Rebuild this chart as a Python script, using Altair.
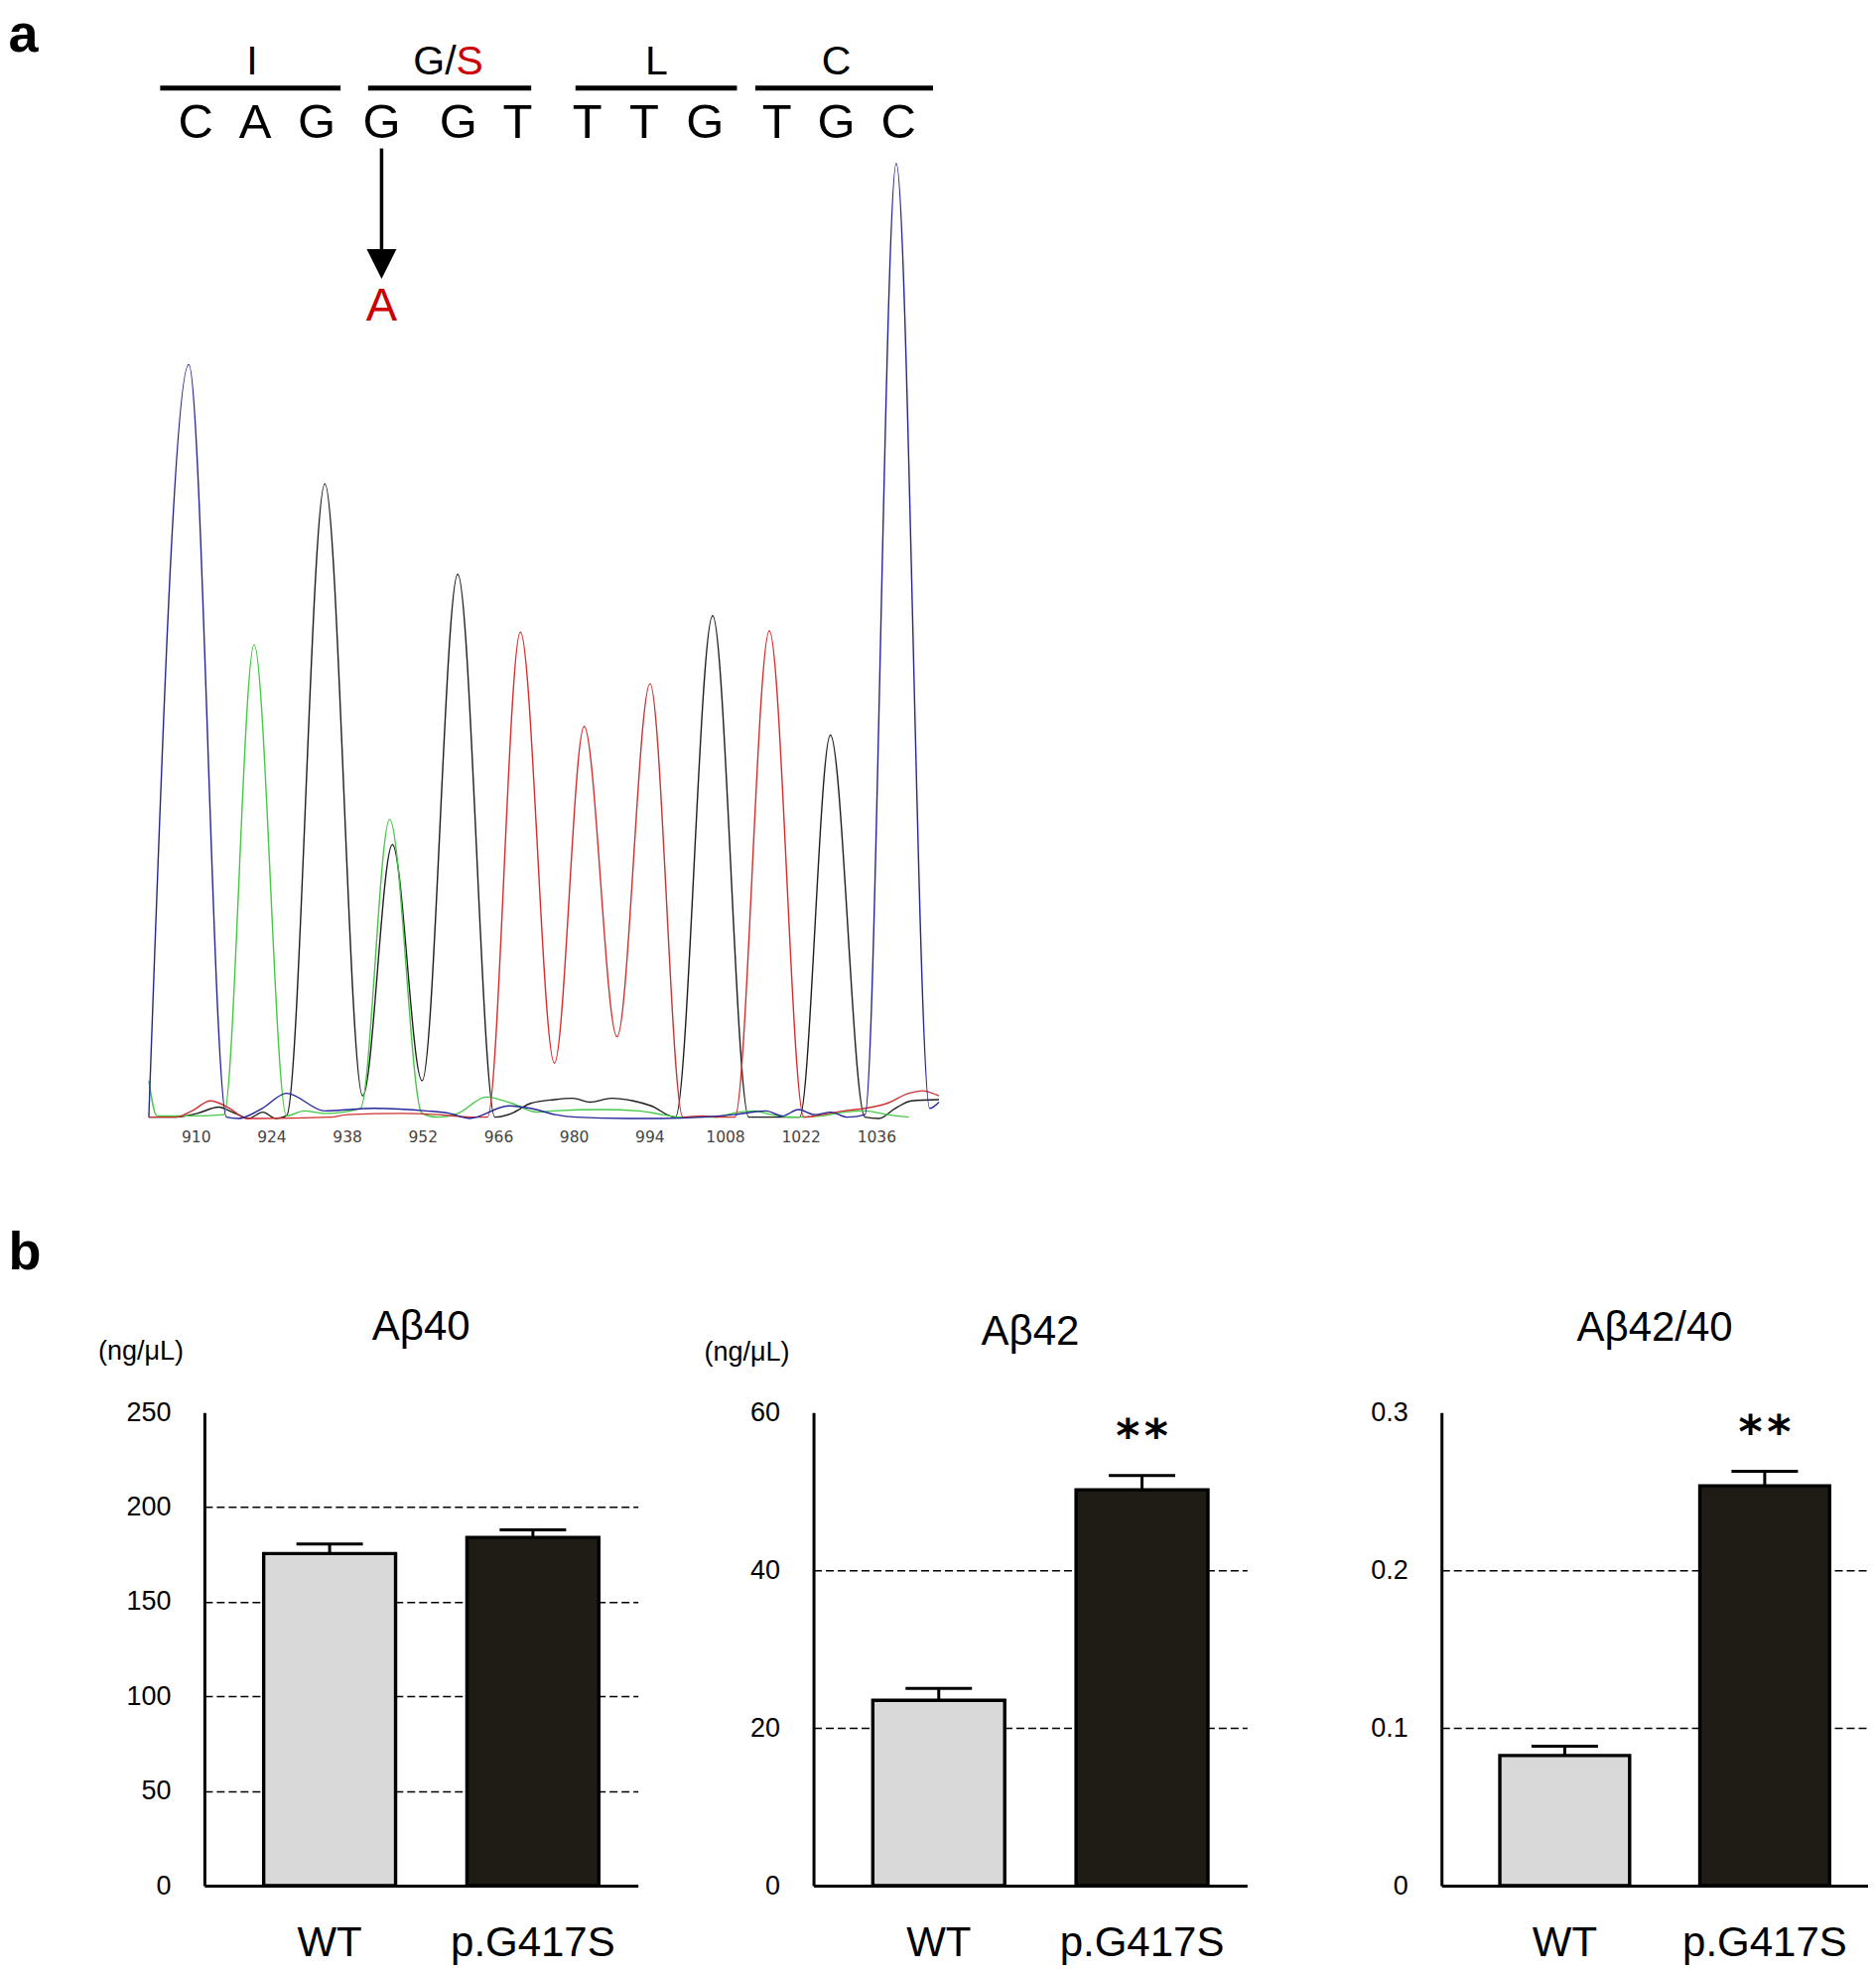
import altair as alt
import pandas as pd

FONT = "Liberation Sans"

# ---------------- Panel a : sequencing chromatogram ----------------
# scan position / signal (peaks, valleys, baseline bumps)
c_scan = [901.3, 908.7, 915.7, 917.9, 922.3, 926.8, 933.9, 943.0, 952.7, 957.0, 960.6, 968.0,
          972.0, 976.6, 980.4, 990.0, 996.2, 1003.7, 1009.6, 1015.6, 1018.6, 1021.6, 1024.6,
          1027.6, 1030.6, 1033.9, 1039.7, 1045.9, 1047.6]
c_sig = [1, 600, 1, 0, 8, 20, 6, 8, 6, 4, 0, 10, 8, 3, 1, 0, 0, 1, 3, 6, 2, 7, 3, 5, 1, 3, 760, 8, 13]

a_scan = [901.3, 902.8, 910.0, 915.2, 920.8, 926.8, 930.0, 934.0, 940.5, 945.9, 951.9, 954.8,
          958.5, 963.8, 968.5, 973.2, 976.2, 985.0, 992.0, 996.4, 1000.0, 1006.0, 1010.5,
          1013.5, 1016.5, 1021.0, 1026.0, 1030.0, 1034.0, 1038.0, 1042.0]
a_sig = [30, 2, 2, 3, 377, 2, 6, 4, 8, 238, 4, 1, 4, 17, 12, 5, 6, 7, 6, 3, 1, 1, 5, 6, 3, 1,
         2, 5, 6, 3, 1]

g_scan = [901.3, 906.3, 910.3, 914.2, 917.3, 919.8, 922.4, 924.8, 926.8, 933.9, 940.9, 946.4,
          951.9, 958.5, 965.4, 968.5, 972.0, 976.4, 979.8, 983.0, 987.0, 991.0, 994.3, 998.8,
          1005.7, 1012.4, 1021.8, 1027.5, 1033.9, 1036.5, 1039.5, 1042.5, 1047.6]
g_sig = [1, 1, 4, 9, 4, 0, 5, 0, 2, 505, 18, 218, 30, 433, 1, 4, 12, 15, 16, 13, 16, 14, 10, 1,
         400, 1, 1, 305, 1, 0, 8, 14, 15]

t_scan = [901.3, 906.3, 909.3, 912.7, 916.3, 919.3, 921.5, 935.0, 938.0, 948.0, 955.0, 961.0,
          964.0, 970.1, 976.4, 981.9, 988.0, 994.1, 1000.2, 1003.8, 1006.8, 1009.8, 1016.2,
          1022.6, 1026.0, 1030.0, 1034.0, 1038.0, 1042.0, 1044.5, 1047.6]
t_sig = [1, 1, 6, 14, 8, 0, 0, 1, 3, 4, 3, 1, 1, 387, 44, 312, 65, 346, 1, 2, 1, 1, 388, 1, 3,
         6, 8, 12, 20, 22, 18]

tick_vals = [910, 924, 938, 952, 966, 980, 994, 1008, 1022, 1036]

codon_names = ["I", "L", "C"]
codon_name_x = [920.4, 995.3, 1028.6]
gs_left = "G/"
gs_right = "S"
gs_x = 958.2
codon_start = [903.4, 941.9, 980.3, 1013.6]
codon_end = [936.8, 972.1, 1010.2, 1046.5]
bases = ["C", "A", "G", "G", "G", "T", "T", "T", "G", "T", "G", "C"]
base_x = [910.0, 921.0, 932.4, 944.4, 958.6, 969.6, 982.5, 993.0, 1004.3, 1017.6, 1028.6, 1040.1]
mut_x = 944.4
mut_base = "A"

# header rows (in signal units of the same axis)
ROW_CODON, ROW_BAR, ROW_BASE = 840, 820, 792.5
ARROW_TOP, ARROW_BOT, HEAD_Y, MUT_Y = 772, 691, 680, 646

trace_df = pd.concat([
    pd.DataFrame({"scan": g_scan, "signal": g_sig, "base": "G"}),
    pd.DataFrame({"scan": a_scan, "signal": a_sig, "base": "A"}),
    pd.DataFrame({"scan": t_scan, "signal": t_sig, "base": "T"}),
    pd.DataFrame({"scan": c_scan, "signal": c_sig, "base": "C"}),
])

xs = alt.Scale(domain=[901.3, 1047.7], nice=False, zero=False)
ys = alt.Scale(domain=[0, 870], nice=False, zero=False)
x_axis = alt.Axis(values=tick_vals, title=None, domain=False, ticks=False, grid=False, format="d",
                  labelFontSize=15.5, labelPadding=12, labelColor="#444444", labelFont="DejaVu Sans")


def hx(f):
    return alt.X(f, scale=xs, axis=x_axis)


def hy(f):
    return alt.Y(f, scale=ys, axis=None)


traces = alt.Chart(trace_df).mark_line(interpolate="monotone", strokeWidth=1.4).encode(
    x=hx("scan:Q"),
    y=hy("signal:Q"),
    color=alt.Color("base:N", scale=alt.Scale(domain=["G", "A", "T", "C"],
                    range=["#1e1e1e", "#45c845", "#d03030", "#26269c"]), legend=None),
)

codon_txt = alt.Chart(pd.DataFrame({"t": codon_names, "x": codon_name_x, "y": ROW_CODON})).mark_text(
    fontSize=41, baseline="middle", align="center", color="black", font=FONT
).encode(x=hx("x:Q"), y=hy("y:Q"), text="t:N")

gs1 = alt.Chart(pd.DataFrame({"t": [gs_left], "x": [gs_x], "y": [ROW_CODON]})).mark_text(
    fontSize=41, baseline="middle", align="right", color="black", font=FONT
).encode(x=hx("x:Q"), y=hy("y:Q"), text="t:N")

gs2 = alt.Chart(pd.DataFrame({"t": [gs_right], "x": [gs_x], "y": [ROW_CODON]})).mark_text(
    fontSize=41, baseline="middle", align="left", color="#cc0000", font=FONT
).encode(x=hx("x:Q"), y=hy("y:Q"), text="t:N")

codon_bars = alt.Chart(pd.DataFrame({"x0": codon_start, "x1": codon_end, "y": ROW_BAR})).mark_rule(
    strokeWidth=5, color="black"
).encode(x=hx("x0:Q"), x2="x1:Q", y=hy("y:Q"))

base_txt = alt.Chart(pd.DataFrame({"t": bases, "x": base_x, "y": ROW_BASE})).mark_text(
    fontSize=49, baseline="middle", align="center", color="black", font=FONT
).encode(x=hx("x:Q"), y=hy("y:Q"), text="t:N")

arrow = alt.Chart(pd.DataFrame({"x": [mut_x], "y0": [ARROW_TOP], "y1": [ARROW_BOT]})).mark_rule(
    strokeWidth=3.5, color="black"
).encode(x=hx("x:Q"), y=hy("y0:Q"), y2="y1:Q")

head = alt.Chart(pd.DataFrame({"x": [mut_x], "y": [HEAD_Y]})).mark_point(
    shape="M-1,-1L1,-1L0,1Z", size=900, filled=True, color="black", opacity=1
).encode(x=hx("x:Q"), y=hy("y:Q"))

mut_txt = alt.Chart(pd.DataFrame({"t": [mut_base], "x": [mut_x], "y": [MUT_Y]})).mark_text(
    fontSize=47, baseline="middle", align="center", color="#cc0000", font=FONT
).encode(x=hx("x:Q"), y=hy("y:Q"), text="t:N")

panel_a = alt.layer(traces, codon_bars, codon_txt, gs1, gs2, base_txt, arrow, head, mut_txt).properties(
    width=797, height=1102,
    title=alt.TitleParams(text="a", anchor="start", frame="group", fontSize=54, fontWeight="bold",
                          baseline="top", offset=-37, dx=-141.5, color="black", font=FONT),
)

# ---------------- Panel b : Abeta ELISA bar charts ----------------
groups = ["WT", "p.G417S"]
ab40_mean = [175.5, 184.0]
ab40_sem = [5.0, 4.0]
ab42_mean = [23.5, 50.2]
ab42_sem = [1.5, 1.8]
ratio_mean = [0.0825, 0.2535]
ratio_sem = [0.006, 0.0093]
ab42_sig = ["", "*\u200a*"]
ab42_sig_y = [0, 55.0]
ratio_sig = ["", "*\u200a*"]
ratio_sig_y = [0, 0.2775]

PH = 477


def bar_panel(title, means, sems, ymax, yticks, width, ytitle=None, ytitle_xy=(0, 0),
              title_offset=0.0, sig=None, sig_y=None, label_expr=None):
    df = pd.DataFrame({
        "group": groups,
        "mean": means,
        "top": [m + s for m, s in zip(means, sems)],
        "sig": sig if sig else ["", ""],
        "sig_y": sig_y if sig_y else [0, 0],
    })
    xenc = alt.X("group:N", sort=groups,
                 scale=alt.Scale(paddingInner=0.351, paddingOuter=0.242, align=0.603),
                 axis=alt.Axis(title=None, labelAngle=0, labelFontSize=42, labelPadding=38,
                               ticks=False, domainWidth=3, domainColor="black",
                               labelColor="black", labelFont=FONT, grid=False))
    ysc = alt.Scale(domain=[0, ymax], nice=False, zero=True)
    axis_kw = dict(values=yticks, ticks=False, domainWidth=3, domainColor="black",
                   labelFontSize=27, labelPadding=34, labelColor="black", labelFont=FONT,
                   grid=True, gridDash=[8, 4], gridColor="black", gridWidth=1.5,
                   gridOpacity=alt.condition(f"datum.value > 0 && datum.value < {ymax}",
                                             alt.value(1), alt.value(0)))
    if label_expr:
        axis_kw["labelExpr"] = label_expr
    if ytitle:
        axis_kw.update(title=ytitle, titleAngle=0, titleX=ytitle_xy[0], titleY=ytitle_xy[1],
                       titleAlign="center", titleBaseline="middle", titleFontSize=27,
                       titleFontWeight="normal", titleColor="black", titleFont=FONT)
    else:
        axis_kw["title"] = None
    yaxis = alt.Axis(**axis_kw)

    base = alt.Chart(df)
    bars = base.mark_bar(stroke="black", strokeWidth=3.4).encode(
        x=xenc,
        y=alt.Y("mean:Q", scale=ysc, axis=yaxis),
        fill=alt.Fill("group:N", scale=alt.Scale(domain=groups, range=["#d9d9d9", "#1f1c15"]),
                      legend=None),
    )
    err = base.mark_rule(strokeWidth=3, color="black").encode(
        x=xenc, y=alt.Y("mean:Q", scale=ysc, axis=yaxis), y2="top:Q")
    cap = base.mark_tick(orient="horizontal", size=67, thickness=3, color="black", opacity=1).encode(
        x=xenc, y=alt.Y("top:Q", scale=ysc, axis=yaxis))
    layers = [bars, err, cap]
    if sig:
        stars = base.transform_filter("datum.sig != ''").mark_text(
            font="DejaVu Sans", fontSize=46, fontWeight="bold", baseline="alphabetic",
            align="center", color="black"
        ).encode(x=xenc, y=alt.Y("sig_y:Q", scale=ysc, axis=yaxis), text="sig:N")
        layers.append(stars)
    return alt.layer(*layers).properties(
        width=width, height=PH,
        title=alt.TitleParams(text=title, fontSize=42, fontWeight="normal", color="black",
                              baseline="alphabetic", offset=title_offset, anchor="middle",
                              frame="group", font=FONT),
    )


b1 = bar_panel("Aβ40", ab40_mean, ab40_sem, 250, [0, 50, 100, 150, 200, 250], 437,
               ytitle="(ng/μL)", ytitle_xy=(-64.5, -62), title_offset=-44.5)
b2 = bar_panel("Aβ42", ab42_mean, ab42_sem, 60, [0, 20, 40, 60], 437,
               ytitle="(ng/μL)", ytitle_xy=(-67.6, -60.5), title_offset=-48,
               sig=ab42_sig, sig_y=ab42_sig_y)
b3 = bar_panel("Aβ42/40", ratio_mean, ratio_sem, 0.3, [0, 0.1, 0.2, 0.3], 430,
               title_offset=16.5, sig=ratio_sig, sig_y=ratio_sig_y,
               label_expr="datum.value == 0 ? '0' : format(datum.value, '.1f')")


def spacer(w, title=None):
    c = alt.Chart(pd.DataFrame({"v": [0]})).mark_point(opacity=0, size=1).encode(
        x=alt.value(0), y=alt.value(0))
    if title is not None:
        return c.properties(width=w, height=PH, title=title)
    return c.properties(width=w, height=PH)


b_label = alt.TitleParams(text="b", anchor="start", frame="group", fontSize=54, fontWeight="bold",
                          baseline="alphabetic", offset=90, dx=-141.5, color="black", font=FONT)

row_b = alt.hconcat(spacer(55.7, b_label), b1, spacer(176.8), b2, spacer(196), b3,
                    spacing=0, bounds="flush")

chart = alt.vconcat(panel_a, row_b, spacing=296.5, bounds="flush").properties(
    padding=0
).configure(font=FONT).configure_view(stroke=None)

chart.save("out.html", embed_options={"renderer": "svg", "actions": False})
